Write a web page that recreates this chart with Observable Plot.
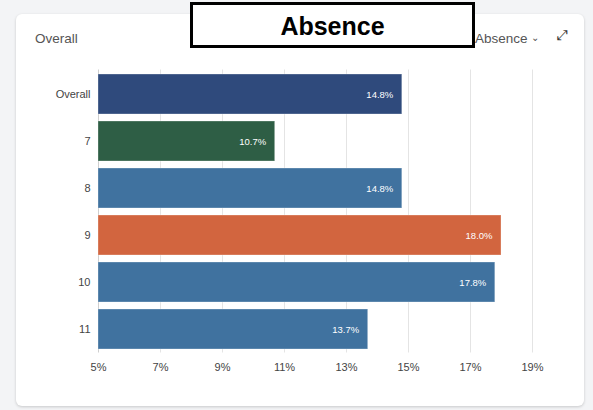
<!DOCTYPE html>
<html>
<head>
<meta charset="utf-8">
<script src="https://cdn.jsdelivr.net/npm/d3@7"></script>
<script src="https://cdn.jsdelivr.net/npm/@observablehq/plot@0.6"></script>
<style>
  html, body { margin: 0; padding: 0; }
  body { width: 593px; height: 410px; background: #f3f4f6; position: relative; overflow: hidden; font-family: "Liberation Sans", Arial, sans-serif; }
  #card { position: absolute; left: 16px; top: 14px; width: 568px; height: 392px; background: #fff; border-radius: 6px; box-shadow: 0 1px 3px rgba(0,0,0,0.18); }
  #chart { position: absolute; left: 0; top: 0; }
  .hdr { position: absolute; color: #555; font-size: 13.5px; }
  #box { position: absolute; left: 190px; top: 2px; width: 279px; height: 40px; border: 3px solid #000; background: #fff; text-align: center; font-weight: bold; font-size: 25px; line-height: 42px; color: #000; }
</style>
</head>
<body>
<div id="card"></div>
<div class="hdr" style="left:35px; top:31px;">Overall</div>
<div class="hdr" style="left:475px; top:31px;">Absence <span style="font-size:10px; position:relative; top:-2px;">&#8964;</span></div>
<div class="hdr" style="left:557px; top:27px; font-size:14px; color:#333;">&#10530;</div>
<div id="chart"></div>
<div id="box">Absence</div>
<script>
const categories = ["Overall", "7", "8", "9", "10", "11"];
const values = [14.8, 10.7, 14.8, 18.0, 17.8, 13.7];
const colors = ["#2f4a7c", "#2e5e45", "#40729f", "#d2653f", "#40729f", "#40729f"];
const xTicks = [5, 7, 9, 11, 13, 15, 17, 19];

const data = categories.map((c, i) => ({cat: c, value: values[i], color: colors[i]}));

const plot = Plot.plot({
  width: 593,
  height: 410,
  marginLeft: 98,
  marginRight: 61,
  marginTop: 69.5,
  marginBottom: 57.5,
  style: {background: "transparent", fontFamily: "Liberation Sans, Arial, sans-serif", color: "#444"},
  x: {domain: [5, 19], label: null},
  y: {domain: categories, paddingInner: 0.15, paddingOuter: 0.075, label: null},
  marks: [
    Plot.ruleX(xTicks.slice(1), {stroke: "#e4e4e4", strokeWidth: 1}),
    Plot.ruleX([5], {stroke: "#cfcfcf"}),
    Plot.barX(data, {x1: 5, x2: "value", y: "cat", fill: "color", stroke: "#ffffff", strokeOpacity: 0.3}),
    Plot.text(data, {x: "value", y: "cat", text: d => d.value.toFixed(1) + "%", dx: -9, textAnchor: "end", fill: "white", fontSize: 9.5}),
    Plot.axisX({ticks: xTicks, tickFormat: d => d + "%", tickSize: 0, tickPadding: 10, fontSize: 11, fill: "#444", label: null}),
    Plot.axisY({tickSize: 0, tickPadding: 8, fontSize: 11, fill: "#444", label: null})
  ]
});
document.getElementById("chart").appendChild(plot);
</script>
</body>
</html>
